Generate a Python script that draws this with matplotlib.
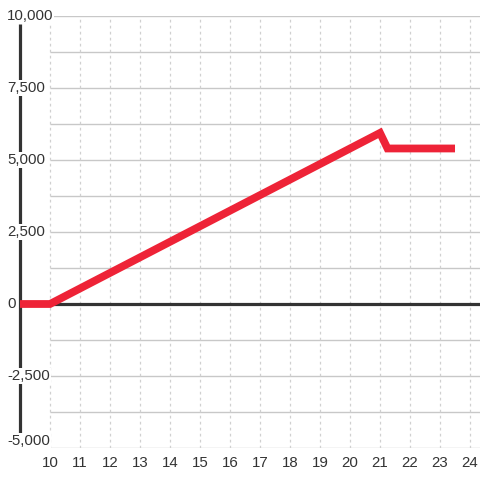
import matplotlib
matplotlib.use("Agg")
import matplotlib.pyplot as plt
import numpy as np

plt.rcParams["font.family"] = ["Liberation Sans", "DejaVu Sans"]

# series
xs = [9, 10, 21, 21.25, 23.5]
ys = [0, 0, 5940, 5400, 5400]

x_ticks = list(range(10, 25))
y_ticks = [10000, 7500, 5000, 2500, 0, -2500, -5000]
y_grid = np.arange(-5000, 10001, 1250)

XMIN, XMAX = 9, 24.333
YMIN, YMAX = -5000, 10000
TXT = "#333333"

fig = plt.figure(figsize=(4.8, 4.8), dpi=100)
ax = fig.add_axes([20 / 480, 32 / 480, 460 / 480, 432 / 480])
ax.set_xlim(XMIN, XMAX)
ax.set_ylim(YMIN, YMAX)
for s in ax.spines.values():
    s.set_visible(False)

# grid
ax.hlines(y_grid, 10, XMAX, color="#c8c8c8", lw=1, zorder=1)
ax.vlines(x_ticks, YMIN, YMAX, color="#d0d0d0", lw=0.9,
          linestyles=(0, (2.2, 2.6)), zorder=1)

# axes lines
ax.hlines(0, XMIN, XMAX, color=TXT, lw=2.3, zorder=2)
ax.vlines(XMIN, YMIN, 9722, color=TXT, lw=2.3, zorder=2, clip_on=False)

ax.plot(xs, ys, color="#ee2337", lw=5.6, solid_capstyle="butt",
        solid_joinstyle="miter", zorder=3)

# x ticks
ax.set_xticks(x_ticks)
ax.set_xticklabels([str(t) for t in x_ticks], fontsize=10.8, color=TXT)
ax.tick_params(axis="x", length=0, pad=6)
ax.set_yticks([])

# y labels, left aligned on white boxes over the axis line
tr = ax.get_yaxis_transform()
for v in y_ticks:
    yy = v + 243 if v == YMIN else v
    ax.text(-13 / 460, yy, f"{v:,}", transform=tr,
            ha="left", va="center", fontsize=10.8, color=TXT, zorder=5,
            clip_on=False,
            bbox=dict(boxstyle="square,pad=0.05", fc="white", ec="none"))

fig.savefig("out.png", dpi=100)
